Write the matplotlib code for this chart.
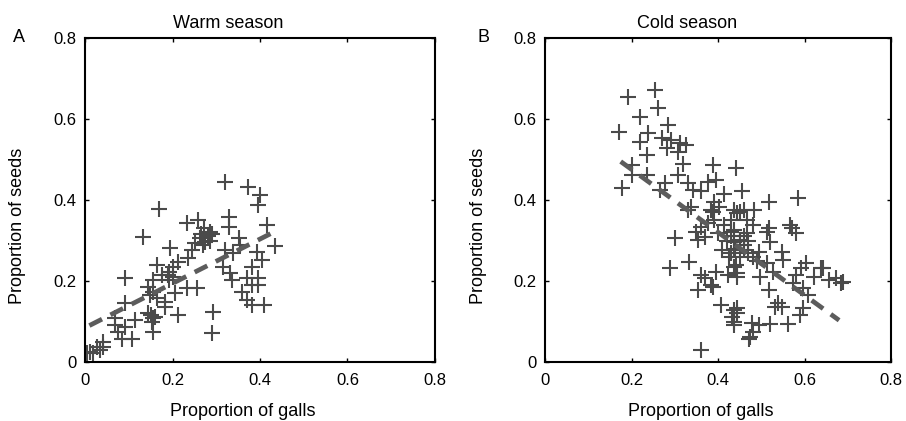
import matplotlib
matplotlib.use("Agg")
import matplotlib.pyplot as plt
from matplotlib.ticker import FixedLocator, FixedFormatter

plt.rcParams['font.family'] = ['Liberation Sans', 'DejaVu Sans']

# ---------------- data ----------------
warm_galls = [0.320, 0.372, 0.400, 0.396, 0.168, 0.329, 0.415, 0.232, 0.259, 0.271,
              0.328, 0.133, 0.286, 0.263, 0.274, 0.251, 0.351, 0.354, 0.434, 0.194,
              0.244, 0.320, 0.339, 0.392, 0.404, 0.236, 0.213, 0.164, 0.202, 0.316,
              0.381, 0.191, 0.175, 0.331, 0.091, 0.370, 0.396, 0.156, 0.191, 0.335,
              0.145, 0.381, 0.396, 0.232, 0.255, 0.156, 0.206, 0.358, 0.149, 0.164,
              0.183, 0.370, 0.091, 0.381, 0.408, 0.183, 0.293, 0.213, 0.145, 0.160,
              0.114, 0.069, 0.152, 0.069, 0.091, 0.156, 0.076, 0.107, 0.084, 0.290,
              0.042, 0.027, 0.042, 0.011, 0.019, 0.004, 0.034,
              0.265, 0.280, 0.290, 0.270, 0.285, 0.190, 0.200, 0.150, 0.155]
warm_seeds = [0.445, 0.433, 0.412, 0.388, 0.379, 0.359, 0.338, 0.342, 0.351, 0.330,
              0.334, 0.309, 0.322, 0.305, 0.297, 0.293, 0.305, 0.289, 0.286, 0.281,
              0.277, 0.277, 0.268, 0.272, 0.252, 0.256, 0.248, 0.239, 0.235, 0.235,
              0.235, 0.223, 0.215, 0.219, 0.207, 0.207, 0.207, 0.202, 0.202, 0.202,
              0.186, 0.190, 0.190, 0.182, 0.182, 0.174, 0.170, 0.174, 0.165, 0.157,
              0.149, 0.153, 0.145, 0.141, 0.141, 0.137, 0.124, 0.116, 0.120, 0.112,
              0.104, 0.108, 0.100, 0.091, 0.087, 0.075, 0.075, 0.058, 0.058, 0.071,
              0.050, 0.038, 0.038, 0.025, 0.021, 0.021, 0.030,
              0.315, 0.310, 0.315, 0.290, 0.300, 0.215, 0.210, 0.115, 0.108]

cold_galls = [0.192, 0.255, 0.261, 0.220, 0.171, 0.285, 0.239, 0.220, 0.270, 0.292,
              0.312, 0.327, 0.281, 0.308, 0.236, 0.319, 0.201, 0.388, 0.441, 0.236,
              0.201, 0.308, 0.178, 0.277, 0.331, 0.376, 0.395, 0.266, 0.361, 0.342,
              0.414, 0.456, 0.517, 0.338, 0.391, 0.403, 0.437, 0.460, 0.483, 0.388,
              0.586,
              0.452, 0.517, 0.566, 0.581, 0.437, 0.467, 0.520, 0.437, 0.547, 0.494,
              0.460, 0.604, 0.642, 0.593, 0.551, 0.513, 0.672, 0.684, 0.623, 0.581,
              0.528, 0.498, 0.444, 0.437, 0.574, 0.517, 0.596, 0.608, 0.539, 0.547,
              0.532, 0.596, 0.589, 0.562, 0.520, 0.494, 0.482, 0.471, 0.444, 0.437,
              0.444, 0.482, 0.467, 0.429,
              0.300, 0.289, 0.334, 0.361, 0.369, 0.388, 0.353, 0.395, 0.422, 0.407,
              0.437, 0.433, 0.437, 0.361, 0.350, 0.361, 0.353, 0.369, 0.376, 0.399,
              0.410, 0.391, 0.414, 0.429, 0.437, 0.441, 0.445, 0.331, 0.384, 0.445,
              0.425, 0.452, 0.474,
              0.656, 0.688, 0.638, 0.570, 0.513, 0.383, 0.479,
              0.430, 0.450, 0.460, 0.470, 0.480, 0.490, 0.450, 0.440, 0.460, 0.470,
              0.420, 0.430]
cold_seeds = [0.655, 0.672, 0.626, 0.606, 0.569, 0.585, 0.565, 0.544, 0.552, 0.548,
              0.540, 0.536, 0.528, 0.519, 0.511, 0.490, 0.486, 0.486, 0.478, 0.462,
              0.462, 0.462, 0.429, 0.441, 0.441, 0.445, 0.449, 0.425, 0.421, 0.425,
              0.416, 0.421, 0.396, 0.383, 0.396, 0.383, 0.375, 0.375, 0.375, 0.371,
              0.405,
              0.371, 0.330, 0.338, 0.318, 0.326, 0.318, 0.297, 0.297, 0.272, 0.272,
              0.277, 0.244, 0.231, 0.231, 0.252, 0.244, 0.207, 0.195, 0.211, 0.215,
              0.223, 0.211, 0.219, 0.235, 0.194, 0.178, 0.182, 0.165, 0.145, 0.137,
              0.137, 0.133, 0.116, 0.095, 0.095, 0.091, 0.075, 0.058, 0.120, 0.100,
              0.133, 0.338, 0.351, 0.351,
              0.305, 0.231, 0.248, 0.215, 0.207, 0.186, 0.178, 0.223, 0.215, 0.141,
              0.128, 0.112, 0.091, 0.030, 0.322, 0.334, 0.301, 0.309, 0.342, 0.318,
              0.277, 0.351, 0.338, 0.322, 0.277, 0.240, 0.211, 0.375, 0.375, 0.367,
              0.260, 0.301, 0.062,
              0.202, 0.198, 0.232, 0.331, 0.321, 0.190, 0.096,
              0.310, 0.300, 0.290, 0.270, 0.260, 0.250, 0.260, 0.280, 0.310, 0.300,
              0.300, 0.270]

warm_fit_x = [0.01, 0.43]
warm_fit_y = [0.09, 0.32]
cold_fit_x = [0.175, 0.68]
cold_fit_y = [0.495, 0.103]

tick_vals = [0, 0.2, 0.4, 0.6, 0.8]
tick_labels = ["0", "0.2", "0.4", "0.6", "0.8"]
titles = ["Warm season", "Cold season"]
letters = ["A", "B"]
xlabel = "Proportion of galls"
ylabel = "Proportion of seeds"

# ---------------- figure ----------------
W, H = 906, 421
fig = plt.figure(figsize=(W / 100, H / 100), dpi=100)

def rect(x0, x1, y0, y1):
    return [x0 / W, 1 - y1 / H, (x1 - x0) / W, (y1 - y0) / H]

ax1 = fig.add_axes(rect(85, 435, 38, 362))
ax2 = fig.add_axes(rect(545, 891, 38, 362))

mcol = '#4a4a4a'
lcol = '#5c5c5c'

panels = [(ax1, warm_galls, warm_seeds, warm_fit_x, warm_fit_y),
          (ax2, cold_galls, cold_seeds, cold_fit_x, cold_fit_y)]

for i, (ax, gx, sy, fx, fy) in enumerate(panels):
    ax.plot(gx, sy, linestyle='none', marker='+', markersize=11.5,
            markeredgewidth=1.5, color=mcol, zorder=2)
    ax.plot(fx, fy, linestyle=(0, (3, 2)), linewidth=3.4, color=lcol,
            zorder=3, dash_capstyle='butt')
    ax.set_xlim(0, 0.8)
    ax.set_ylim(0, 0.8)
    ax.xaxis.set_major_locator(FixedLocator(tick_vals))
    ax.xaxis.set_major_formatter(FixedFormatter(tick_labels))
    ax.yaxis.set_major_locator(FixedLocator(tick_vals))
    ax.yaxis.set_major_formatter(FixedFormatter(tick_labels))
    ax.tick_params(direction='in', length=3, width=1.0, top=True, right=True,
                   labelsize=12, colors='black')
    ax.tick_params(axis='x', pad=8)
    ax.tick_params(axis='y', pad=6)
    for s in ax.spines.values():
        s.set_linewidth(1.5)
        s.set_color('black')
    ax.set_title(titles[i], fontsize=13, x=0.41, pad=7)
    ax.set_xlabel(xlabel, fontsize=13)
    ax.set_ylabel(ylabel, fontsize=13)
    ax.xaxis.set_label_coords(0.45, -0.125)
    ax.yaxis.set_label_coords(-0.168, 0.42)

fig.text(19 / W, 1 - 38 / H, letters[0], fontsize=13, ha='center', va='center')
fig.text(484 / W, 1 - 38 / H, letters[1], fontsize=13, ha='center', va='center')

fig.savefig('out.png', dpi=100)
